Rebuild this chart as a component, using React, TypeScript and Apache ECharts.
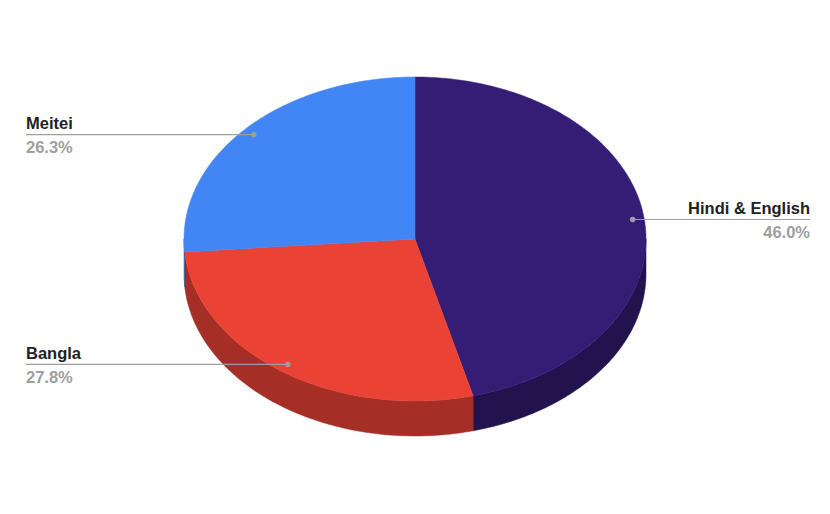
import React, { useEffect, useRef } from "react";
import * as echarts from "echarts";

const categories = ["Hindi & English", "Bangla", "Meitei"];
const values = [46.0, 27.8, 26.3];
const topColors = ["#351c75", "#ea4335", "#4285f4"];
const sideColors = ["#22134f", "#a52e26", "#2e5dab"];

const CX = 415;
const CY = 239;
const RX = 231;
const RY = 162;
const DEPTH = 35;
const LEFT_X = 26;
const RIGHT_X = 810;

const total = values.reduce((a, b) => a + b, 0);
const starts: number[] = [];
{
  let acc = 0;
  for (const v of values) {
    starts.push(acc);
    acc += v;
  }
}

function pt(deg: number, r: number, dy = 0): number[] {
  const t = (deg * Math.PI) / 180;
  return [CX + RX * r * Math.sin(t), CY - RY * r * Math.cos(t) + dy];
}

function arcPts(a: number, b: number, dy: number): number[][] {
  const n = Math.max(2, Math.ceil(Math.abs(b - a) / 1));
  const out: number[][] = [];
  for (let i = 0; i <= n; i++) out.push(pt(a + ((b - a) * i) / n, 1, dy));
  return out;
}

export default function App() {
  const ref = useRef<HTMLDivElement>(null);
  useEffect(() => {
    if (!ref.current) return;
    const chart = echarts.init(ref.current, undefined, { renderer: "svg" });
    chart.setOption({
      animation: false,
      backgroundColor: "#ffffff",
      series: [
        {
          type: "custom",
          coordinateSystem: "none",
          silent: true,
          data: values.map((v) => [v]),
          renderItem: (params: any, api: any) => {
            const i = params.dataIndex;
            const v = api.value(0);
            const a = (starts[i] / total) * 360;
            const b = a + (v / total) * 360;
            const children: any[] = [];
            const sa = Math.max(a, 90);
            const sb = Math.min(b, 270);
            if (sb > sa) {
              const top = arcPts(sa, sb, 0);
              const bot = arcPts(sb, sa, DEPTH);
              children.push({
                type: "polygon",
                z2: 1,
                shape: { points: top.concat(bot) },
                style: { fill: sideColors[i], stroke: sideColors[i], lineWidth: 0.5 },
              });
            }
            children.push({
              type: "polygon",
              z2: 5,
              shape: { points: [[CX, CY]].concat(arcPts(a, b, 0)) },
              style: { fill: topColors[i], stroke: topColors[i], lineWidth: 0.5 },
            });
            const mid = (a + b) / 2;
            const d = pt(mid, 0.95);
            const right = mid < 180;
            const endX = right ? RIGHT_X : LEFT_X;
            const pct = ((v / total) * 100).toFixed(1) + "%";
            children.push({
              type: "line",
              z2: 10,
              shape: { x1: d[0], y1: d[1], x2: endX, y2: d[1] },
              style: { stroke: "#9e9e9e", lineWidth: 1.2 },
            });
            children.push({
              type: "circle",
              z2: 11,
              shape: { cx: d[0], cy: d[1], r: 2.8 },
              style: { fill: "#9e9e9e" },
            });
            children.push({
              type: "text",
              z2: 12,
              style: {
                text: categories[i],
                x: endX,
                y: d[1] - 11.5,
                align: right ? "right" : "left",
                verticalAlign: "middle",
                fill: "#222222",
                fontSize: 16.5,
                fontWeight: "bold",
                fontFamily: "'Liberation Sans', Arial, sans-serif",
              },
            });
            children.push({
              type: "text",
              z2: 12,
              style: {
                text: pct,
                x: endX,
                y: d[1] + 12.5,
                align: right ? "right" : "left",
                verticalAlign: "middle",
                fill: "#9e9e9e",
                fontSize: 16.5,
                fontWeight: "bold",
                fontFamily: "'Liberation Sans', Arial, sans-serif",
              },
            });
            return { type: "group", children };
          },
        },
      ],
    });
    return () => chart.dispose();
  }, []);
  return (
    <div
      ref={ref}
      style={{ position: "absolute", left: 0, top: 0, width: 830, height: 514 }}
    />
  );
}
